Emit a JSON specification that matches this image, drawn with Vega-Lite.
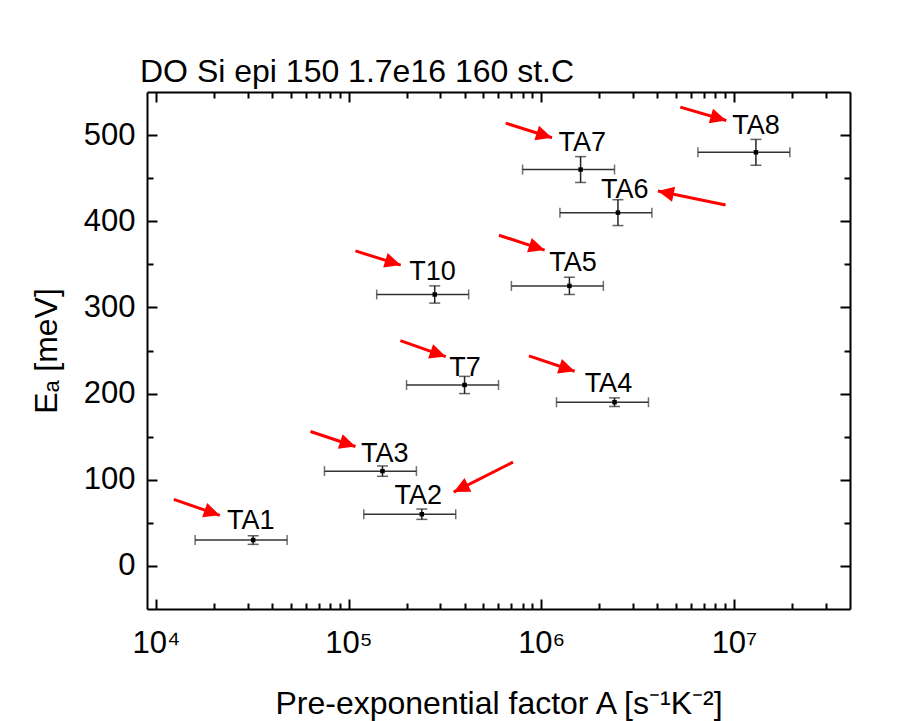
{
  "$schema": "https://vega.github.io/schema/vega-lite/v6.json",
  "width": 703,
  "height": 517,
  "autosize": {"type": "none"},
  "padding": {"left": 147, "top": 92, "right": 62, "bottom": 112},
  "background": "white",
  "config": {
    "font": "Liberation Sans",
    "view": {"stroke": null},
    "axis": {
      "grid": false,
      "domainColor": "black",
      "domainWidth": 2,
      "tickColor": "black",
      "tickWidth": 2,
      "labelFont": "Liberation Sans",
      "labelFontSize": 31,
      "labelColor": "black",
      "labelFlush": false,
      "labelOverlap": false,
      "titleFont": "Liberation Sans",
      "titleFontSize": 32,
      "titleFontWeight": "normal",
      "titleColor": "black"
    }
  },
  "title": {
    "text": "DO Si epi 150 1.7e16 160 st.C",
    "anchor": "start",
    "frame": "group",
    "font": "Liberation Sans",
    "fontSize": 32,
    "fontWeight": "normal",
    "color": "black",
    "baseline": "alphabetic",
    "offset": -23,
    "dx": -7
  },
  "data": {
    "values": [
      {"name": "TA1", "A": 32000, "Alo": 16000, "Ahi": 48000, "E": 30, "Elo": 25, "Ehi": 35, "labelA": 31100, "labelE": 42.5, "a0": 12400, "e0": 77.3, "a1": 21480, "e1": 58.7},
      {"name": "TA2", "A": 240000, "Alo": 120000, "Ahi": 360000, "E": 60, "Elo": 54, "Ehi": 66, "labelA": 230000, "labelE": 72.3, "a0": 713300, "e0": 120.5, "a1": 351200, "e1": 85.7},
      {"name": "TA3", "A": 150000, "Alo": 75000, "Ahi": 225000, "E": 110, "Elo": 104, "Ehi": 116, "labelA": 154000, "labelE": 120.5, "a0": 63450, "e0": 156, "a1": 108600, "e1": 138.6},
      {"name": "TA4", "A": 2400000, "Alo": 1200000, "Ahi": 3600000, "E": 190, "Elo": 185, "Ehi": 195, "labelA": 2230000, "labelE": 202.3, "a0": 863500, "e0": 243.7, "a1": 1490000, "e1": 225.9},
      {"name": "T7", "A": 400000, "Alo": 200000, "Ahi": 600000, "E": 210, "Elo": 200, "Ehi": 220, "labelA": 402000, "labelE": 220.9, "a0": 185800, "e0": 261.4, "a1": 319300, "e1": 242.9},
      {"name": "T10", "A": 280000, "Alo": 140000, "Ahi": 420000, "E": 315, "Elo": 305, "Ehi": 325, "labelA": 273000, "labelE": 331.7, "a0": 108600, "e0": 365.6, "a1": 186500, "e1": 349.1},
      {"name": "TA5", "A": 1400000, "Alo": 700000, "Ahi": 2100000, "E": 325, "Elo": 315, "Ehi": 335, "labelA": 1460000, "labelE": 341.7, "a0": 603300, "e0": 383.8, "a1": 1041000, "e1": 366.5},
      {"name": "TA6", "A": 2500000, "Alo": 1250000, "Ahi": 3750000, "E": 410, "Elo": 395, "Ehi": 425, "labelA": 2710000, "labelE": 427.4, "a0": 9045000, "e0": 418.9, "a1": 4030000, "e1": 435.1},
      {"name": "TA7", "A": 1600000, "Alo": 800000, "Ahi": 2400000, "E": 460, "Elo": 445, "Ehi": 475, "labelA": 1630000, "labelE": 481.5, "a0": 653800, "e0": 513.9, "a1": 1136700, "e1": 496.9},
      {"name": "TA8", "A": 13000000, "Alo": 6500000, "Ahi": 19500000, "E": 480, "Elo": 465, "Ehi": 495, "labelA": 13000000, "labelE": 500.8, "a0": 5266000, "e0": 532.4, "a1": 9120000, "e1": 517}
    ]
  },
  "resolve": {"axis": {"x": "independent", "y": "independent"}},
  "layer": [
    {
      "mark": {"type": "rule", "color": "#333333", "strokeWidth": 1.5},
      "encoding": {
        "x": {"field": "Alo", "type": "quantitative", "scale": {"type": "log", "domain": [9000, 40000000], "nice": false},
          "axis": {"orient": "bottom", "values": [10000, 100000, 1000000, 10000000], "ticks": false, "domain": true,
            "labelExpr": "datum.value == 10000 ? '10⁴' : datum.value == 100000 ? '10⁵' : datum.value == 1000000 ? '10⁶' : '10⁷'",
            "labelBaseline": "alphabetic", "labelPadding": 43,
            "title": "Pre-exponential factor A [s⁻¹K⁻²]", "titlePadding": 30}},
        "x2": {"field": "Ahi"},
        "y": {"field": "E", "type": "quantitative", "scale": {"domain": [-50, 550], "nice": false, "zero": false},
          "axis": {"orient": "left", "values": [0, 100, 200, 300, 400, 500], "ticks": false, "domain": true,
            "labelPadding": 12, "title": "Eₐ [meV]", "titlePadding": 20}}
      }
    },
    {
      "mark": {"type": "tick", "orient": "vertical", "size": 10, "thickness": 1.5, "color": "#333333"},
      "encoding": {
        "x": {"field": "Alo", "type": "quantitative",
          "axis": {"orient": "bottom", "values": [10000, 100000, 1000000, 10000000], "labels": false, "domain": false, "tickSize": -10, "title": null}},
        "y": {"field": "E", "type": "quantitative",
          "axis": {"orient": "left", "values": [0, 100, 200, 300, 400, 500], "labels": false, "domain": false, "tickSize": -10, "title": null}}
      }
    },
    {
      "mark": {"type": "tick", "orient": "vertical", "size": 10, "thickness": 1.5, "color": "#333333"},
      "encoding": {
        "x": {"field": "Ahi", "type": "quantitative",
          "axis": {"orient": "bottom", "values": [20000, 30000, 40000, 50000, 60000, 70000, 80000, 90000, 200000, 300000, 400000, 500000, 600000, 700000, 800000, 900000, 2000000, 3000000, 4000000, 5000000, 6000000, 7000000, 8000000, 9000000, 20000000, 30000000], "labels": false, "domain": false, "tickSize": -6, "title": null}},
        "y": {"field": "E", "type": "quantitative",
          "axis": {"orient": "left", "values": [50, 150, 250, 350, 450], "labels": false, "domain": false, "tickSize": -6, "title": null}}
      }
    },
    {
      "mark": {"type": "rule", "color": "#222222", "strokeWidth": 1.5},
      "encoding": {
        "x": {"field": "A", "type": "quantitative",
          "axis": {"orient": "top", "values": [10000, 100000, 1000000, 10000000], "labels": false, "domain": true, "tickSize": -10, "title": null}},
        "y": {"field": "Elo", "type": "quantitative",
          "axis": {"orient": "right", "values": [0, 100, 200, 300, 400, 500], "labels": false, "domain": true, "tickSize": -10, "title": null}},
        "y2": {"field": "Ehi"}
      }
    },
    {
      "mark": {"type": "tick", "orient": "horizontal", "size": 11, "thickness": 1.5, "color": "#222222"},
      "encoding": {
        "x": {"field": "A", "type": "quantitative",
          "axis": {"orient": "top", "values": [20000, 30000, 40000, 50000, 60000, 70000, 80000, 90000, 200000, 300000, 400000, 500000, 600000, 700000, 800000, 900000, 2000000, 3000000, 4000000, 5000000, 6000000, 7000000, 8000000, 9000000, 20000000, 30000000], "labels": false, "domain": false, "tickSize": -6, "title": null}},
        "y": {"field": "Elo", "type": "quantitative",
          "axis": {"orient": "right", "values": [50, 150, 250, 350, 450], "labels": false, "domain": false, "tickSize": -6, "title": null}}
      }
    },
    {
      "mark": {"type": "tick", "orient": "horizontal", "size": 11, "thickness": 1.5, "color": "#222222"},
      "encoding": {
        "x": {"field": "A", "type": "quantitative", "axis": null},
        "y": {"field": "Ehi", "type": "quantitative", "axis": null}
      }
    },
    {
      "mark": {"type": "square", "size": 20, "color": "black", "opacity": 1},
      "encoding": {
        "x": {"field": "A", "type": "quantitative", "axis": null},
        "y": {"field": "E", "type": "quantitative", "axis": null}
      }
    },
    {
      "mark": {"type": "text", "fontSize": 27, "font": "Liberation Sans", "align": "center", "baseline": "alphabetic", "color": "black"},
      "encoding": {
        "x": {"field": "labelA", "type": "quantitative", "axis": null},
        "y": {"field": "labelE", "type": "quantitative", "axis": null},
        "text": {"field": "name"}
      }
    },
    {
      "mark": {"type": "rule", "color": "#FF0000", "strokeWidth": 3},
      "encoding": {
        "x": {"field": "a0", "type": "quantitative", "axis": null},
        "y": {"field": "e0", "type": "quantitative", "axis": null},
        "x2": {"field": "a1"},
        "y2": {"field": "e1"}
      }
    },
    {
      "mark": {"type": "point", "shape": "M0,0L0.95,2L-0.95,2Z", "size": 256, "filled": true, "color": "#FF0000", "opacity": 1, "strokeWidth": 0,
        "angle": {"expr": "atan2(scale('x', datum.a1) - scale('x', datum.a0), scale('y', datum.e0) - scale('y', datum.e1)) * 180 / PI"}},
      "encoding": {
        "x": {"field": "a1", "type": "quantitative", "axis": null},
        "y": {"field": "e1", "type": "quantitative", "axis": null}
      }
    }
  ]
}
